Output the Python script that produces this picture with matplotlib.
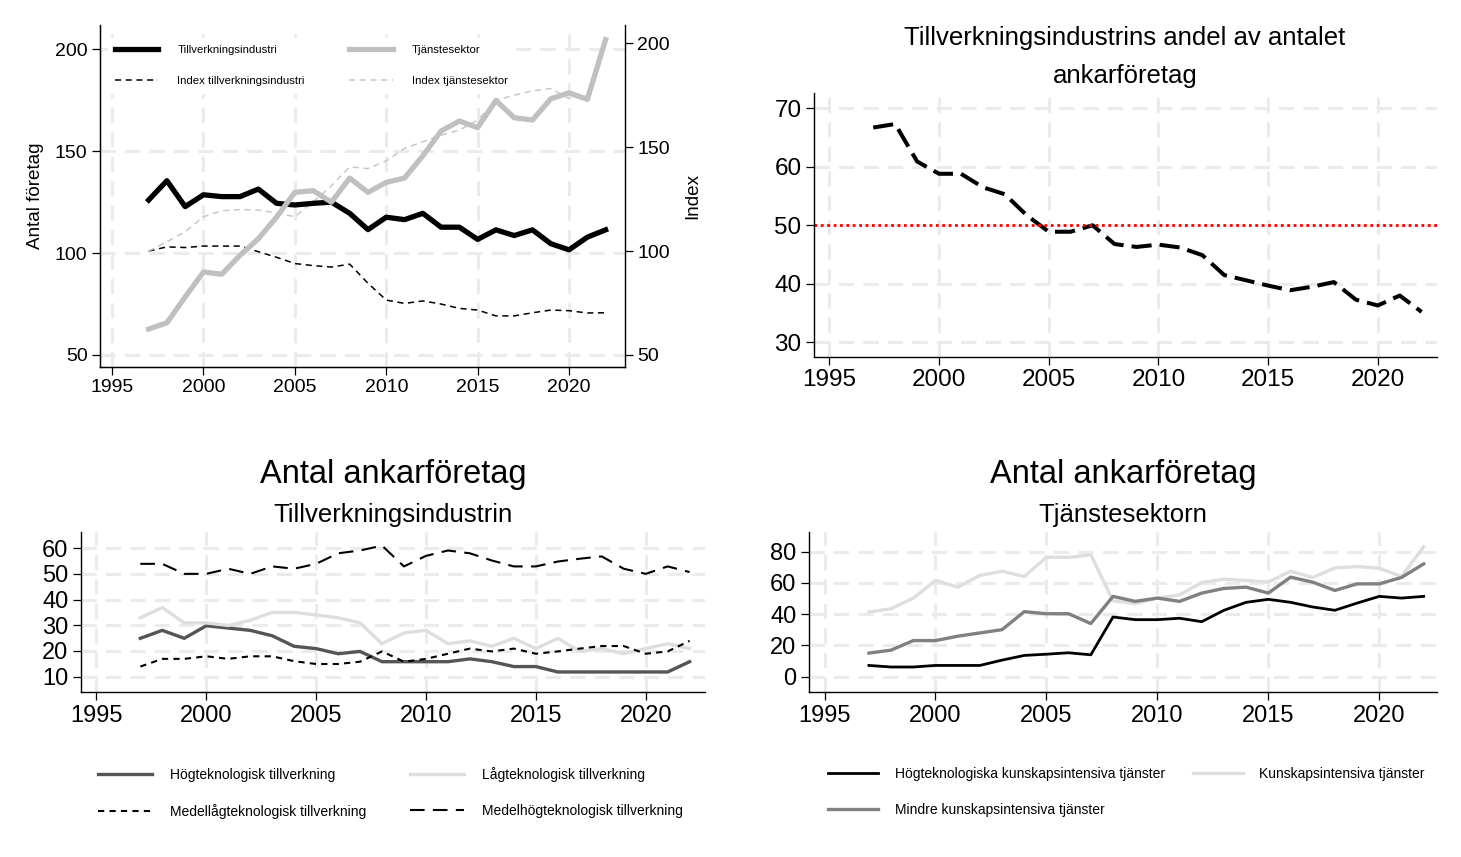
import matplotlib
matplotlib.use('Agg')
from matplotlib import pyplot as plt

plt.rcParams['font.family'] = ['Liberation Sans', 'DejaVu Sans']

years = list(range(1997, 2023))

# top left: number of firms and index
tillverkning = [126, 135.5, 122.8, 128.6, 127.7, 127.7, 131.4, 124.4, 123.6, 124.4, 125, 119.5, 111.5,
                117.6, 116.4, 119.5, 112.7, 112.7, 106.7, 111.4, 108.6, 111.4, 104.6, 101.6, 107.8, 111.4]
tjanst = [62.7, 65.8, 78.5, 90.7, 89.6, 98.9, 107, 117.6, 129.8, 130.6, 125, 136.8, 129.8,
          134.7, 136.8, 147.7, 159.9, 164.8, 161.5, 174.9, 166.4, 165.3, 175.7, 178.6, 175.4, 204.7]
index_tillv = [100, 102, 101.7, 102.4, 102.4, 102.4, 99.7, 97, 94, 93, 92.3, 93.7, 84.5,
               76.4, 74.8, 76, 74.5, 72.4, 71.6, 68.8, 68.8, 70.3, 71.6, 71.3, 70.2, 70.3]
index_tjanst = [100, 104.5, 109.3, 116.5, 119.4, 120, 119.7, 118.4, 116.5, 123.7, 131.4, 140.5, 139.7,
                143.4, 149.4, 152.6, 155.8, 158.2, 163, 172.6, 175, 177.1, 178.2, 173.4, 175, 201]

# top right: share of anchor firms in manufacturing
andel = [66.7, 67.3, 60.9, 58.8, 58.8, 56.5, 55.3, 51.7, 48.9, 48.9, 50, 46.8, 46.3,
         46.7, 46.2, 44.9, 41.5, 40.6, 39.7, 38.9, 39.5, 40.3, 37.3, 36.3, 38, 35.2]

# bottom left: manufacturing by technology level
hogtek = [24.9, 28, 24.9, 29.8, 28.9, 28, 25.9, 21.8, 20.9, 18.9, 19.8, 15.8, 15.8,
          15.8, 15.8, 16.9, 15.8, 13.9, 13.9, 11.8, 11.8, 11.8, 11.8, 11.8, 11.8, 15.8]
lagtek = [32.9, 36.9, 30.9, 30.9, 29.9, 31.9, 35, 35, 34, 32.9, 30.9, 22.8, 27,
          28, 22.8, 23.9, 21.8, 24.9, 20.9, 24.9, 19.8, 20.9, 18.9, 20.9, 22.8, 20.9]
medellag = [13.9, 16.9, 16.9, 17.9, 16.9, 17.9, 17.9, 16, 14.9, 14.9, 15.8, 19.8, 15.8,
            16.9, 18.9, 20.9, 19.8, 20.9, 18.9, 19.8, 20.9, 21.9, 21.9, 18.9, 19.8, 23.9]
medelhog = [53.9, 53.9, 50, 50, 52, 50, 52.9, 52, 53.9, 58, 59.1, 61, 52.9,
            57, 59.1, 58, 55.2, 52.9, 52.9, 54.8, 55.9, 56.8, 52, 50, 52.9, 50.7]

# bottom right: services by knowledge intensity
hogtek_tj = [7.2, 6.2, 6.2, 7.2, 7.2, 7.2, 10.6, 13.6, 14.4, 15.3, 14, 38.2, 36.5,
             36.5, 37.4, 35.2, 42.5, 47.6, 49.5, 47.6, 44.6, 42.5, 47.1, 51.4, 50.3, 51.4]
kunskap = [41.4, 43.5, 50.3, 61.6, 57.3, 64.8, 67.5, 64.1, 76.4, 76.4, 77.9, 48.6, 46.7,
           50.3, 52.4, 60.3, 62.4, 61.6, 60.5, 67.5, 63.5, 69.6, 70.5, 69.4, 64.1, 83.2]
mindre = [15.1, 17, 23.1, 23.1, 25.9, 28, 30.1, 41.6, 40.3, 40.3, 34, 51.4, 48.2,
          50.3, 48.2, 53.5, 56.5, 57.3, 53.5, 63.7, 60.5, 55.2, 59.4, 59.4, 63.5, 72.2]

xticks = [1995, 2000, 2005, 2010, 2015, 2020]
GRID = dict(color='#ebebeb', lw=2.2, ls=(0, (5, 3)))

W, H = 1461, 857
fig = plt.figure(figsize=(W / 100, H / 100), dpi=100)


def px_axes(x0, y0, x1, y1):
    return fig.add_axes([x0 / W, 1 - y1 / H, (x1 - x0) / W, (y1 - y0) / H])


def style(ax, fs):
    for s in ['top', 'right']:
        ax.spines[s].set_visible(False)
    for s in ['left', 'bottom']:
        ax.spines[s].set_linewidth(1.0)
    ax.tick_params(direction='out', length=6, width=0.9, labelsize=fs, pad=3)
    ax.set_xticks(xticks)
    ax.grid(True, color=GRID['color'], linewidth=GRID['lw'], linestyle=GRID['ls'])
    ax.set_axisbelow(True)


def fpos(x, y):
    return (x / W, 1 - y / H)


# ---------- top left ----------
left_lim = (44.1, 211.9)
right_lim = (44.2, 208.8)
ax1 = px_axes(100, 25, 625, 367)
style(ax1, 14)
ax1.grid(False)
ax1.set_xlim(1994.34, 2023.06)
ax1.set_ylim(*left_lim)
ax1.set_yticks([50, 100, 150, 200])
ax1.set_ylabel('Antal företag', fontsize=13.6, labelpad=8)
ax2 = ax1.twinx()
ax2.set_ylim(*right_lim)
ax2.set_yticks([50, 100, 150, 200])
ax2.spines['top'].set_visible(False)
ax2.spines['right'].set_linewidth(1.0)
ax2.tick_params(direction='out', length=6, width=0.9, labelsize=14, pad=3)
ax2.set_ylabel('Index', fontsize=13.6, labelpad=10)

# back axes holds the index lines and the grid
ax2.set_zorder(ax1.get_zorder() - 1)
ax1.patch.set_visible(False)
ax2.patch.set_facecolor('white')
for xv in xticks:
    ax2.axvline(xv, zorder=0, **GRID)
for yv in [50, 100, 150, 200]:
    frac = (yv - left_lim[0]) / (left_lim[1] - left_lim[0])
    ax2.axhline(right_lim[0] + frac * (right_lim[1] - right_lim[0]), zorder=0, **GRID)
l3, = ax2.plot(years, index_tillv, color='black', lw=1.1, ls=(0, (4, 3)))
l4, = ax2.plot(years, index_tjanst, color='#c8c8c8', lw=1.1, ls=(0, (4, 3)))
l1, = ax1.plot(years, tillverkning, color='black', lw=3.8)
l2, = ax1.plot(years, tjanst, color='#c0c0c0', lw=3.8)
leg = ax1.legend([l1, l3, l2, l4],
                 ['Tillverkningsindustri', 'Index tillverkningsindustri', 'Tjänstesektor', 'Index tjänstesektor'],
                 ncol=2, loc='upper left', bbox_to_anchor=fpos(108, 38), bbox_transform=fig.transFigure,
                 fontsize=8.2, handlelength=3.8, handletextpad=1.7, columnspacing=3.9,
                 labelspacing=1.9, borderpad=0.6, borderaxespad=0, fancybox=False,
                 framealpha=1, facecolor='white', edgecolor='white')

# ---------- top right ----------
ax = px_axes(814, 93, 1437, 357)
style(ax, 17.5)
ax.set_xlim(1994.3, 2022.7)
ax.set_ylim(27.5, 72.6)
ax.set_yticks([30, 40, 50, 60, 70])
ax.plot(years, andel, color='black', lw=2.9, ls=(0, (5, 2)))
ax.axhline(50, color='red', lw=2.0, ls=(0, (1, 1.3)))
fig.text(1125 / W, 1 - 38 / H, 'Tillverkningsindustrins andel av antalet', ha='center', va='center', fontsize=18.5)
fig.text(1125 / W, 1 - 76 / H, 'ankarföretag', ha='center', va='center', fontsize=18.5)

# ---------- bottom left ----------
ax = px_axes(81, 532, 705, 692)
style(ax, 17)
ax.set_xlim(1994.3, 2022.7)
ax.set_ylim(4.0, 66.3)
ax.set_yticks([10, 20, 30, 40, 50, 60])
a, = ax.plot(years, hogtek, color='#555555', lw=2.4)
b, = ax.plot(years, lagtek, color='#dedede', lw=2.4)
c, = ax.plot(years, medellag, color='black', lw=1.5, ls=(0, (3, 2.5)))
d, = ax.plot(years, medelhog, color='black', lw=1.5, ls=(0, (7, 4)))
fig.text(393 / W, 1 - 474 / H, 'Antal ankarföretag', ha='center', va='center', fontsize=23.5)
fig.text(393 / W, 1 - 515 / H, 'Tillverkningsindustrin', ha='center', va='center', fontsize=18.5)
fig.legend([a, c, b, d],
           ['Högteknologisk tillverkning', 'Medellågteknologisk tillverkning',
            'Lågteknologisk tillverkning', 'Medelhögteknologisk tillverkning'],
           ncol=2, loc='upper left', bbox_to_anchor=fpos(98, 767), fontsize=10,
           handlelength=3.9, handletextpad=1.3, columnspacing=3.1, labelspacing=1.6,
           borderpad=0, borderaxespad=0, frameon=False)

# ---------- bottom right ----------
ax = px_axes(809, 532, 1437, 692)
style(ax, 17)
ax.set_xlim(1994.3, 2022.6)
ax.set_ylim(-9.8, 92.6)
ax.set_yticks([0, 20, 40, 60, 80])
e, = ax.plot(years, kunskap, color='#dedede', lw=2.4)
f, = ax.plot(years, mindre, color='#808080', lw=2.4)
g, = ax.plot(years, hogtek_tj, color='black', lw=2.0)
fig.text(1123 / W, 1 - 474 / H, 'Antal ankarföretag', ha='center', va='center', fontsize=23.5)
fig.text(1123 / W, 1 - 515 / H, 'Tjänstesektorn', ha='center', va='center', fontsize=18.5)
fig.legend([g, f, e],
           ['Högteknologiska kunskapsintensiva tjänster', 'Mindre kunskapsintensiva tjänster',
            'Kunskapsintensiva tjänster'],
           ncol=2, loc='upper left', bbox_to_anchor=fpos(828, 767), fontsize=10,
           handlelength=3.6, handletextpad=1.2, columnspacing=2.0, labelspacing=1.6,
           borderpad=0, borderaxespad=0, frameon=False)

fig.savefig('out.png', dpi=100)
